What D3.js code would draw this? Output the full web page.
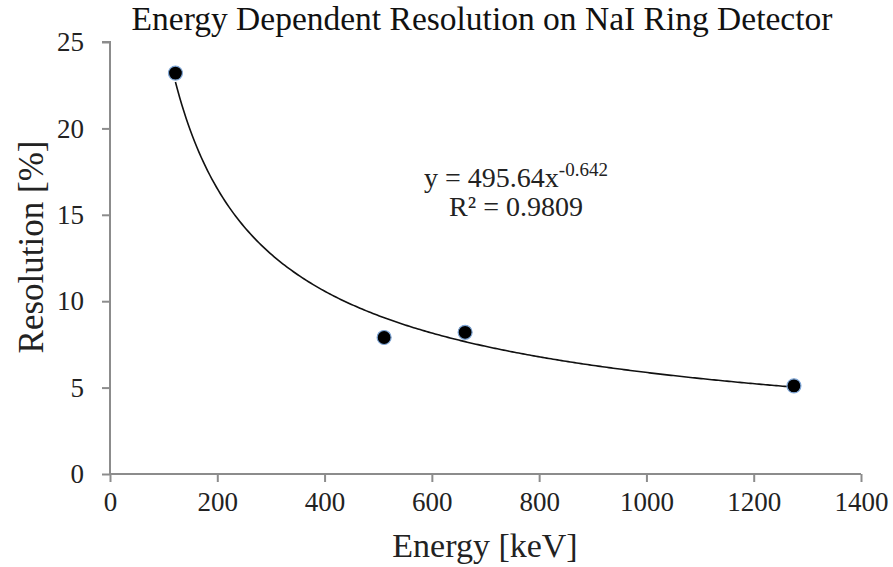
<!DOCTYPE html>
<html>
<head>
<meta charset="utf-8">
<script src="https://cdn.jsdelivr.net/npm/d3@7"></script>
<style>
  body { margin: 0; background: #fff; }
  svg text { font-family: "Liberation Serif", "Times New Roman", serif; }
</style>
</head>
<body>
<div id="chart"></div>
<script>
// measured points
var energies = [122, 511, 662, 1275];
var resolutions = [23.2, 7.9, 8.2, 5.1];
// power trendline shown on chart: y = a * x^b
var fitCoef = [495.64, -0.642];
var xTicks = [0, 200, 400, 600, 800, 1000, 1200, 1400];
var yTicks = [0, 5, 10, 15, 20, 25];

var W = 893, H = 567;
var margin = {top: 42, right: 32, bottom: 93, left: 110},
    width = W - margin.left - margin.right,
    height = H - margin.top - margin.bottom;

var serif = "'Liberation Serif', 'Times New Roman', serif";

var svg = d3.select("#chart")
  .append("svg")
    .attr("width", W)
    .attr("height", H);

var g = svg.append("g")
    .attr("transform", "translate(" + margin.left + "," + margin.top + ")");

var x = d3.scaleLinear().domain([0, 1400]).range([0, width]);
var y = d3.scaleLinear().domain([0, 25]).range([height, 0]);

var xAxis = g.append("g")
  .attr("transform", "translate(0," + height + ")")
  .call(d3.axisBottom(x).tickValues(xTicks).tickSize(8).tickPadding(10).tickFormat(d3.format("d")));
var yAxis = g.append("g")
  .call(d3.axisLeft(y).tickValues(yTicks).tickSize(8).tickPadding(18));

[xAxis, yAxis].forEach(function(a) {
  a.attr("font-family", serif).attr("font-size", 27);
  a.select(".domain").attr("stroke", "#8c8c8c").attr("stroke-width", 2);
  a.selectAll(".tick line").attr("stroke", "#8c8c8c").attr("stroke-width", 2);
  a.selectAll(".tick text").attr("fill", "#222");
});
xAxis.select(".domain").attr("d", "M0,0H" + width);
yAxis.select(".domain").attr("d", "M-8,0H0V" + height);

// trendline drawn from the fitted equation over the data range
var curveX = d3.range(energies[0], energies[energies.length - 1] + 1, 4);
var line = d3.line()
  .x(function(d) { return x(d); })
  .y(function(d) { return y(fitCoef[0] * Math.pow(d, fitCoef[1])); });
g.append("path")
  .datum(curveX)
  .attr("d", line)
  .attr("fill", "none")
  .attr("stroke", "#111")
  .attr("stroke-width", 1.6);

g.selectAll("circle")
  .data(energies)
  .enter()
  .append("circle")
    .attr("cx", function(d) { return x(d); })
    .attr("cy", function(d, i) { return y(resolutions[i]); })
    .attr("r", 7)
    .attr("fill", "#000")
    .attr("stroke", "#7fa6d6")
    .attr("stroke-width", 1.2);

// equation label
var eq = svg.append("text")
  .attr("x", 516).attr("y", 187)
  .attr("text-anchor", "middle")
  .attr("font-family", serif)
  .attr("font-size", 28)
  .attr("fill", "#222");
eq.append("tspan").text("y = 495.64x");
eq.append("tspan").attr("dy", -11).attr("font-size", 19).text("-0.642");
svg.append("text")
  .attr("x", 516).attr("y", 216)
  .attr("text-anchor", "middle")
  .attr("font-family", serif)
  .attr("font-size", 28)
  .attr("fill", "#222")
  .text("R² = 0.9809");

svg.append("text")
  .attr("x", 482).attr("y", 30)
  .attr("text-anchor", "middle")
  .attr("font-family", serif)
  .attr("font-size", 33.5)
  .attr("fill", "#111")
  .text("Energy Dependent Resolution on NaI Ring Detector");

svg.append("text")
  .attr("x", 485).attr("y", 557)
  .attr("text-anchor", "middle")
  .attr("font-family", serif)
  .attr("font-size", 34)
  .attr("fill", "#222")
  .text("Energy [keV]");

svg.append("text")
  .attr("transform", "translate(43,247) rotate(-90)")
  .attr("text-anchor", "middle")
  .attr("font-family", serif)
  .attr("font-size", 35)
  .attr("fill", "#222")
  .text("Resolution [%]");
</script>
</body>
</html>
